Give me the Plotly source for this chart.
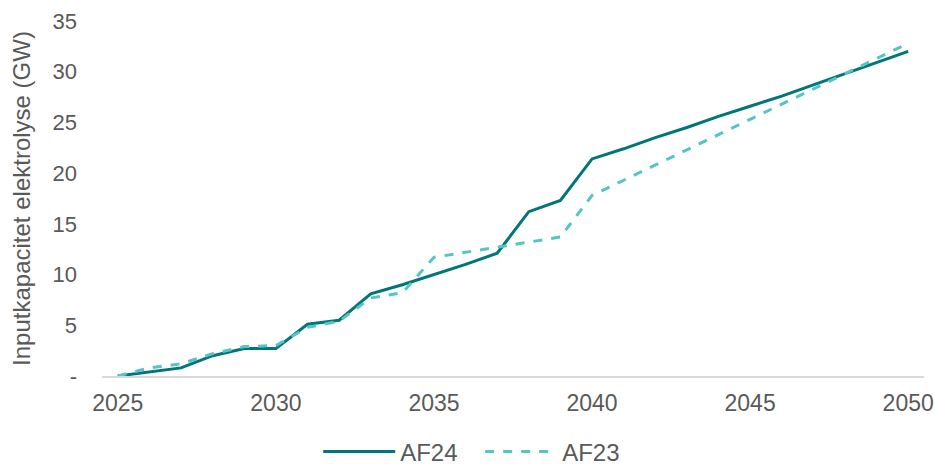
import plotly.graph_objects as go

years = list(range(2025, 2051))
af24 = [0.0, 0.4, 0.8, 2.0, 2.7, 2.7, 5.1, 5.5, 8.1, 9.0, 10.0, 11.0, 12.1, 16.2, 17.3, 21.4,
        22.4, 23.5, 24.5, 25.6, 26.6, 27.6, 28.7, 29.8, 30.9, 32.0]
af23 = [0.0, 0.8, 1.2, 2.2, 2.9, 3.0, 4.8, 5.4, 7.7, 8.2, 11.7, 12.2, 12.7, 13.2, 13.7, 17.8,
        19.3, 20.8, 22.3, 23.8, 25.3, 26.8, 28.3, 29.8, 31.3, 32.8]

y_ticks = [0, 5, 10, 15, 20, 25, 30, 35]
y_ticktext = ["-", "5", "10", "15", "20", "25", "30", "35"]
x_ticks = [2025, 2030, 2035, 2040, 2045, 2050]

fig = go.Figure()
fig.add_trace(go.Scatter(x=years, y=af24, mode="lines", name="AF24",
                         line=dict(color="#00757A", width=3)))
fig.add_trace(go.Scatter(x=years, y=af23, mode="lines", name="AF23",
                         line=dict(color="#55C4C4", width=3, dash="dash")))

font_color = "#595959"
fam = "Liberation Sans, Arial, sans-serif"
fig.update_layout(
    width=935, height=464,
    margin=dict(l=102, r=11, t=21, b=88, autoexpand=False),
    paper_bgcolor="white", plot_bgcolor="white",
    font=dict(family=fam, size=22, color=font_color),
    showlegend=True,
    legend=dict(orientation="h", x=0.263, xanchor="left", y=-0.214, yanchor="middle",
                font=dict(size=24, color=font_color), itemwidth=72,
                entrywidth=75, entrywidthmode="pixels"),
    xaxis=dict(range=[2024.5, 2050.5], tickvals=x_ticks, showgrid=False, zeroline=False,
               showline=True, linecolor="#D9D9D9", linewidth=1.5, ticks="",
               automargin=False, ticklabelstandoff=6,
               tickfont=dict(size=23, color=font_color)),
    yaxis=dict(range=[0, 35], tickvals=y_ticks, ticktext=y_ticktext, showgrid=False,
               zeroline=False, showline=False, ticks="", ticklabelstandoff=24,
               automargin=False,
               title=dict(text="Inputkapacitet elektrolyse (GW)", standoff=15,
                          font=dict(size=24, color=font_color)),
               tickfont=dict(size=22, color=font_color)),
)
fig.write_html("out.html", config={"displayModeBar": False},
               post_script="document.body.style.margin='0';document.body.style.overflow='hidden';")
